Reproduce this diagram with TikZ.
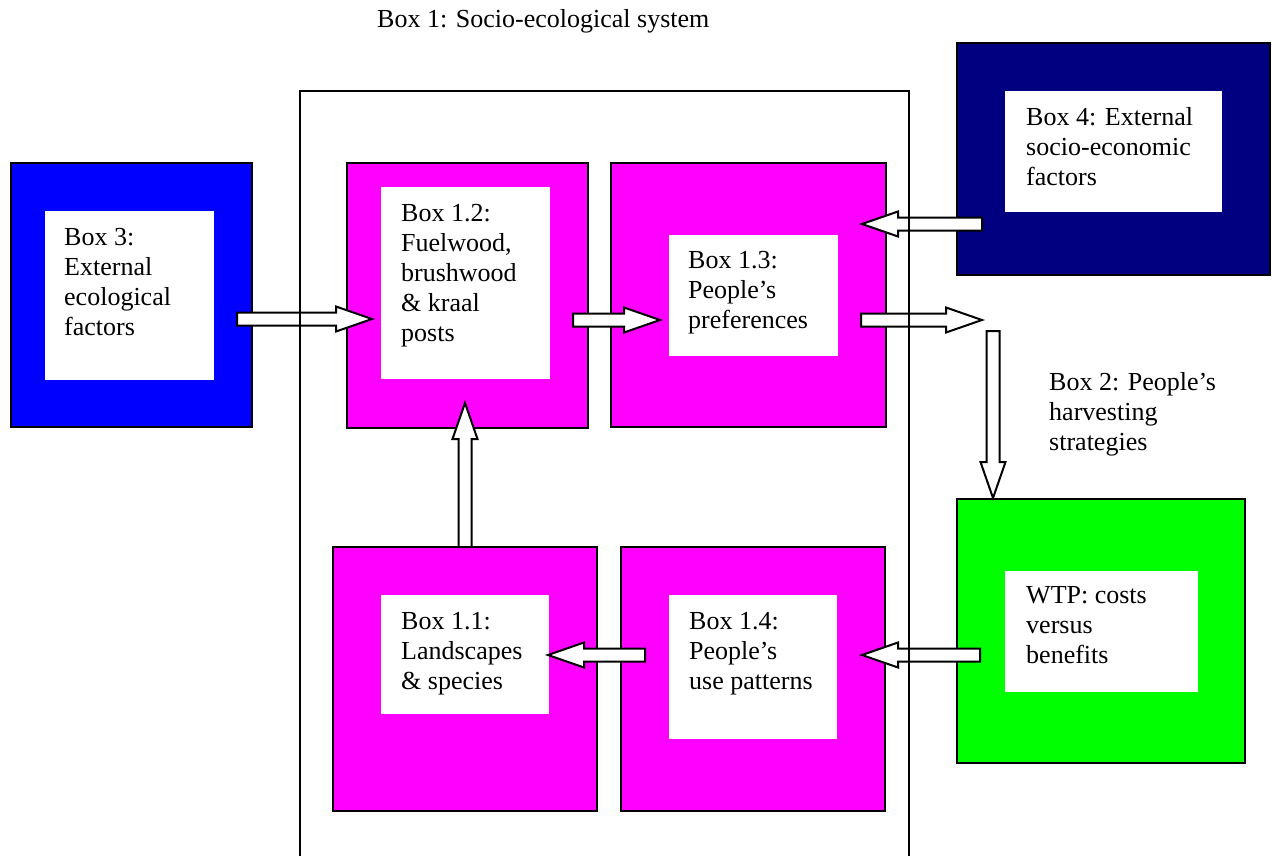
\documentclass[tikz,border=0pt]{standalone}
\usepackage{fontspec}
\setmainfont{Liberation Serif}
\usetikzlibrary{calc,fit}

\definecolor{pinkbox}{RGB}{255,0,255}
\definecolor{bluebox}{RGB}{0,0,255}
\definecolor{navybox}{RGB}{0,0,128}
\definecolor{greenbox}{RGB}{0,255,0}

\tikzset{
  obox/.style={draw=black, line width=2pt, inner sep=0pt},
  ibox/.style={fill=white, inner sep=0pt},
  txt/.style={font=\fontsize{26}{30}\selectfont, align=left, inner sep=0pt, anchor=north west},
  frame/.style={draw=black, line width=2pt},
  % hollow block arrow built from its start and tip
  blockarrow/.style={draw=black, fill=white, line width=2pt, line join=miter,
    to path={
      let \p1=(\tikztostart), \p2=(\tikztotarget),
          \n1={veclen(\x2-\x1,\y2-\y1)},
          \n2={(\x2-\x1)/\n1}, \n3={(\y2-\y1)/\n1}
      in
      ({\x1-\n3*6.5pt},{\y1+\n2*6.5pt})
      -- ({\x2-\n2*36pt-\n3*6.5pt},{\y2-\n3*36pt+\n2*6.5pt})
      -- ({\x2-\n2*36pt-\n3*12.5pt},{\y2-\n3*36pt+\n2*12.5pt})
      -- (\p2)
      -- ({\x2-\n2*36pt+\n3*12.5pt},{\y2-\n3*36pt-\n2*12.5pt})
      -- ({\x2-\n2*36pt+\n3*6.5pt},{\y2-\n3*36pt-\n2*6.5pt})
      -- ({\x1+\n3*6.5pt},{\y1-\n2*6.5pt})
      -- cycle
    }}
}

\begin{document}
\begin{tikzpicture}[x=1pt, y=-1pt]
\useasboundingbox (0,0) rectangle (1274,856);
\clip (0,0) rectangle (1274,856);

% coloured outer boxes
\node[obox, fill=bluebox,  fit={(11,163) (252,427)}]   (b3)  {};
\node[obox, fill=pinkbox,  fit={(347,163) (588,428)}]  (b12) {};
\node[obox, fill=pinkbox,  fit={(611,163) (886,427)}]  (b13) {};
\node[obox, fill=navybox,  fit={(957,43) (1270,275)}]  (b4)  {};
\node[obox, fill=greenbox, fit={(957,499) (1245,763)}] (wtp) {};
\node[obox, fill=pinkbox,  fit={(333,547) (597,811)}]  (b11) {};
\node[obox, fill=pinkbox,  fit={(621,547) (885,811)}]  (b14) {};

% white label panels
\node[ibox, fit={(45,211) (214,380)}]    (b3i)  {};
\node[ibox, fit={(381,187) (550,379)}]   (b12i) {};
\node[ibox, fit={(669,235) (838,356)}]   (b13i) {};
\node[ibox, fit={(1005,91) (1222,212)}]  (b4i)  {};
\node[ibox, fit={(1005,571) (1198,692)}] (wtpi) {};
\node[ibox, fit={(381,595) (549,714)}]   (b11i) {};
\node[ibox, fit={(669,595) (837,739)}]   (b14i) {};

% labels
\node[font=\fontsize{26}{30}\selectfont, inner sep=0pt, anchor=base west] (title) at (377,28) {Box 1: Socio-ecological system};
\node[txt] (b3t)  at (64,228.4)   {Box 3:\\External\\ecological\\factors};
\node[txt] (b12t) at (401,204.4)  {Box 1.2:\\Fuelwood,\\brushwood\\\& kraal\\posts};
\node[txt] (b13t) at (688,251.4)  {Box 1.3:\\People’s\\preferences};
\node[txt] (b4t)  at (1026,107.4) {Box 4: External\\socio-economic\\factors};
\node[txt] (b2t)  at (1049,372.4) {Box 2: People’s\\harvesting\\strategies};
\node[txt] (wtpt) at (1026,586.4) {WTP: costs\\versus\\benefits};
\node[txt] (b11t) at (401,612.4)  {Box 1.1:\\Landscapes\\\& species};
\node[txt] (b14t) at (689,612.4)  {Box 1.4:\\People’s\\use patterns};

% arrow end points
\coordinate (a3s)  at (237,319);  \coordinate (a3e)  at (372,319);
\coordinate (a12s) at (573,320);  \coordinate (a12e) at (660,320);
\coordinate (a13s) at (861,320);  \coordinate (a13e) at (982,320);
\coordinate (a4s)  at (982,224);  \coordinate (a4e)  at (862,224);
\coordinate (a2s)  at (993,331);  \coordinate (a2e)  at (993,498);
\coordinate (aws)  at (980,655);  \coordinate (awe)  at (862,655);
\coordinate (a14s) at (645,655);  \coordinate (a14e) at (548,655);
\coordinate (a11s) at (465,547);  \coordinate (a11e) at (465,403);

% block arrows
\draw[blockarrow] (a3s)  to (a3e);
\draw[blockarrow] (a12s) to (a12e);
\draw[blockarrow] (a13s) to (a13e);
\draw[blockarrow] (a4s)  to (a4e);
\draw[blockarrow] (a2s)  to (a2e);
\draw[blockarrow] (aws)  to (awe);
\draw[blockarrow] (a14s) to (a14e);
\draw[blockarrow] (a11s) to (a11e);

% system frame, open past the lower edge
\draw[frame] (300,880) -- (300,91) -- (909,91) -- (909,880);
\end{tikzpicture}
\end{document}
